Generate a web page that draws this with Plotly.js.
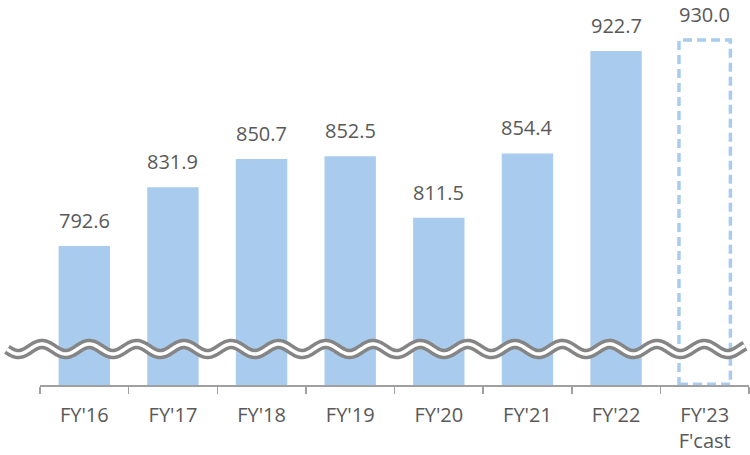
<!DOCTYPE html>
<html>
<head>
<meta charset="utf-8">
<script src="https://cdn.plot.ly/plotly-3.0.1.min.js"></script>
<style>html,body{margin:0;padding:0;background:#fff;}#chart{width:750px;height:455px;}</style>
</head>
<body>
<div id="chart"></div>
<script>
// ---- data ----
const categories = ["FY'16", "FY'17", "FY'18", "FY'19", "FY'20", "FY'21", "FY'22", "FY'23<br>F'cast"];
const values = [792.6, 831.9, 850.7, 852.5, 811.5, 854.4, 922.7, 930.0];
const isForecast = [false, false, false, false, false, false, false, true];

// ---- styling ----
const barColor = '#A9CCEE';
const textColor = '#595959';
const fontFamily = '"Open Sans", "Noto Sans", sans-serif';
const barWidth = 0.58;
const yMin = 700, yMax = 956.7;

const W = 750, H = 455;
const margin = {l: 40, r: 1, t: 0, b: 70};
const plotW = W - margin.l - margin.r;
const plotH = H - margin.t - margin.b;

const barTrace = {
  type: 'bar',
  x: categories,
  y: values,
  width: barWidth,
  marker: {
    color: isForecast.map(f => f ? 'rgba(0,0,0,0)' : barColor),
    line: {width: 0}
  },
  hoverinfo: 'skip',
  showlegend: false
};

const annotations = values.map((v, i) => ({
  x: categories[i], y: v, xref: 'x', yref: 'y',
  text: v.toFixed(1), showarrow: false,
  yanchor: 'bottom', yshift: 10,
  font: {family: fontFamily, size: 20, color: textColor}
}));

const shapes = [];
// dashed outline for forecast bars
isForecast.forEach((f, i) => {
  if (!f) return;
  shapes.push({
    type: 'rect', xref: 'x', yref: 'y',
    x0: i - barWidth / 2, x1: i + barWidth / 2,
    y0: yMin + 0.5, y1: values[i],
    line: {color: barColor, width: 3.5, dash: '9px,5px'},
    fillcolor: 'rgba(0,0,0,0)', layer: 'above'
  });
});

// axis break wave (decoration) in paper coordinates
function wavePath() {
  const x0 = 7, x1 = 745, period = 47.3, peak = 42, cy = 349, amp = 5;
  let d = '';
  for (let px = x0; px <= x1; px += 1) {
    const py = cy - amp * Math.cos(2 * Math.PI * (px - peak) / period);
    const xp = (px - margin.l) / plotW;
    const yp = (H - margin.b - py) / plotH;
    d += (d ? ' L' : 'M') + xp.toFixed(5) + ',' + yp.toFixed(5);
  }
  return d;
}
const wp = wavePath();
shapes.push({type: 'path', xref: 'paper', yref: 'paper', path: wp,
  line: {color: '#858585', width: 10.5}, layer: 'above'});
shapes.push({type: 'path', xref: 'paper', yref: 'paper', path: wp,
  line: {color: '#ffffff', width: 3.5}, layer: 'above'});

const layout = {
  width: W, height: H,
  margin: margin,
  paper_bgcolor: '#ffffff',
  plot_bgcolor: '#ffffff',
  font: {family: fontFamily, color: textColor},
  xaxis: {
    type: 'category',
    showline: true, linecolor: '#A0A0A0', linewidth: 1.5,
    ticks: 'outside', tickson: 'boundaries', ticklen: 7,
    tickcolor: '#A0A0A0', tickwidth: 1.5,
    showgrid: false, zeroline: false,
    tickfont: {family: fontFamily, size: 20, color: textColor},
    ticklabelstandoff: 11,
    fixedrange: true
  },
  yaxis: {
    range: [yMin, yMax],
    visible: false, showgrid: false, zeroline: false,
    fixedrange: true
  },
  annotations: annotations,
  shapes: shapes,
  showlegend: false
};

Plotly.newPlot('chart', [barTrace], layout, {displayModeBar: false, staticPlot: true});
</script>
</body>
</html>
